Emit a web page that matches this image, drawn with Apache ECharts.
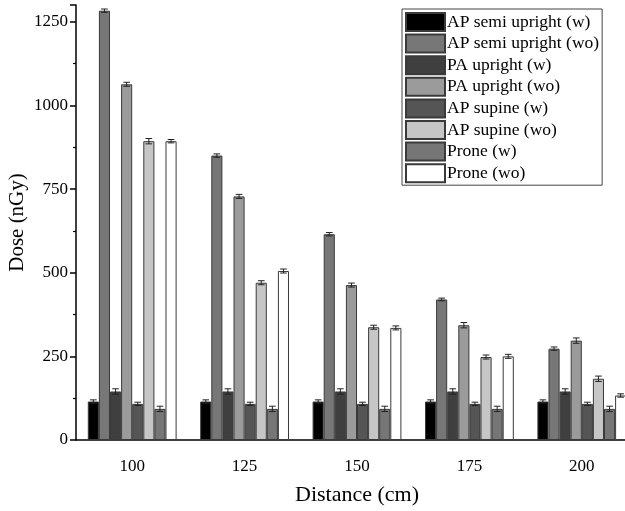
<!DOCTYPE html>
<html>
<head>
<meta charset="utf-8">
<script src="https://cdn.jsdelivr.net/npm/echarts@6/dist/echarts.min.js"></script>
<style>
  html, body { margin: 0; padding: 0; background: #fff; }
  #main { width: 625px; height: 511px; }
</style>
</head>
<body>
<div id="main"></div>
<script>
// categories on the x axis
var distances = ['100', '125', '150', '175', '200'];

var seriesNames = [
  'AP semi upright (w)', 'AP semi upright (wo)',
  'PA upright (w)', 'PA upright (wo)',
  'AP supine (w)', 'AP supine (wo)',
  'Prone (w)', 'Prone (wo)'
];
var seriesColors = ['#000000', '#777777', '#3f3f3f', '#9b9b9b', '#555555', '#c6c6c6', '#767676', '#ffffff'];

// dose values (nGy)
var apSemiW   = [115, 115, 115, 115, 115];
var apSemiWo  = [1283, 850, 615, 420, 273];
var paW       = [145, 145, 145, 145, 145];
var paWo      = [1063, 728, 463, 343, 297];
var apSupW    = [108, 108, 108, 108, 108];
var apSupWo   = [893, 470, 337, 248, 183];
var proneW    = [93, 93, 93, 93, 93];
var proneWo   = [893, 505, 335, 250, 133];

// error bar half-heights
var apSemiWErr  = [5, 5, 5, 5, 5];
var apSemiWoErr = [5, 5, 5, 4, 5];
var paWErr      = [8, 8, 8, 8, 8];
var paWoErr     = [6, 6, 6, 8, 8];
var apSupWErr   = [5, 5, 5, 5, 5];
var apSupWoErr  = [8, 6, 6, 6, 8];
var proneWErr   = [8, 8, 8, 8, 8];
var proneWoErr  = [5, 6, 6, 6, 5];

var allValues = [apSemiW, apSemiWo, paW, paWo, apSupW, apSupWo, proneW, proneWo];
var allErrors = [apSemiWErr, apSemiWoErr, paWErr, paWoErr, apSupWErr, apSupWoErr, proneWErr, proneWoErr];

var catGap = 0.21;
var font = 'Liberation Serif';

var myChart = echarts.init(document.getElementById('main'));

var series = [];
for (var i = 0; i < seriesNames.length; i++) {
  series.push({
    name: seriesNames[i],
    type: 'bar',
    barGap: '0%',
    barCategoryGap: (catGap * 100) + '%',
    clip: false,
    data: allValues[i],
    itemStyle: {
      color: seriesColors[i],
      borderColor: '#3a3a3a',
      borderWidth: 1
    },
    animation: false
  });
}

var errData = [];
for (var s = 0; s < allValues.length; s++) {
  for (var c = 0; c < distances.length; c++) {
    errData.push([c, allValues[s][c], allErrors[s][c], s]);
  }
}

// error bars, offset to sit on top of each bar in the group
series.push({
  type: 'custom',
  name: 'err',
  data: errData,
  encode: { x: 0, y: 1 },
  z: 10,
  clip: false,
  animation: false,
  renderItem: function (params, api) {
    var cat = api.value(0), val = api.value(1), err = api.value(2), si = api.value(3);
    var band = api.size([1, 0])[0];
    var bw = band * (1 - catGap) / seriesNames.length;
    var p = api.coord([cat, val]);
    var x = p[0] + (si - (seriesNames.length - 1) / 2) * bw;
    var yHi = api.coord([cat, val + err])[1];
    var yLo = api.coord([cat, val - err])[1];
    var half = bw * 0.3;
    var st = { stroke: '#222', lineWidth: 1 };
    return {
      type: 'group',
      children: [
        { type: 'line', shape: { x1: x, y1: yHi, x2: x, y2: yLo }, style: st },
        { type: 'line', shape: { x1: x - half, y1: yHi, x2: x + half, y2: yHi }, style: st },
        { type: 'line', shape: { x1: x - half, y1: yLo, x2: x + half, y2: yLo }, style: st }
      ]
    };
  }
});

myChart.setOption({
  backgroundColor: '#fff',
  animation: false,
  grid: { left: 76, right: -13, top: 5, bottom: 71, containLabel: false, outerBoundsMode: 'none' },
  legend: {
    data: seriesNames,
    orient: 'vertical',
    left: 402,
    top: 9,
    itemWidth: 39,
    itemHeight: 18,
    itemGap: 1.6,
    padding: [3, 3, 2, 3],
    borderColor: '#444',
    borderWidth: 1,
    icon: 'rect',
    textStyle: { fontFamily: font, fontSize: 17.5, lineHeight: 18, color: '#000', padding: [0, 0, 0, -3] }
  },
  xAxis: [
    {
      type: 'category',
      data: distances,
      name: 'Distance (cm)',
      nameLocation: 'middle',
      nameGap: 44,
      nameMoveOverlap: false,
      nameTextStyle: { fontFamily: font, fontSize: 22, color: '#000' },
      axisLine: { lineStyle: { color: '#000', width: 1.5 } },
      axisTick: { alignWithLabel: true, length: 7, lineStyle: { color: '#000', width: 1.5 } },
      axisLabel: { fontFamily: font, fontSize: 17, color: '#000', margin: 18 }
    },
    {
      type: 'category',
      data: distances,
      position: 'bottom',
      axisLine: { show: false },
      axisTick: { length: 4, lineStyle: { color: '#000', width: 1.5 } },
      axisLabel: { show: false }
    }
  ],
  yAxis: {
    type: 'value',
    min: 0,
    max: 1300,
    interval: 250,
    name: 'Dose (nGy)',
    nameLocation: 'middle',
    nameGap: 48,
    nameMoveOverlap: false,
    nameTextStyle: { fontFamily: font, fontSize: 21, color: '#000' },
    axisLine: { show: true, lineStyle: { color: '#000', width: 1.5 } },
    axisTick: { show: true, length: 6, lineStyle: { color: '#000', width: 1.5 } },
    minorTick: { show: true, splitNumber: 2, length: 3, lineStyle: { color: '#000', width: 1.2 } },
    splitLine: { show: false },
    axisLabel: {
      fontFamily: font, fontSize: 17, color: '#000', margin: 8, showMaxLabel: false,
      formatter: function (v) { return String(v); }
    }
  },
  series: series
});
</script>
</body>
</html>
